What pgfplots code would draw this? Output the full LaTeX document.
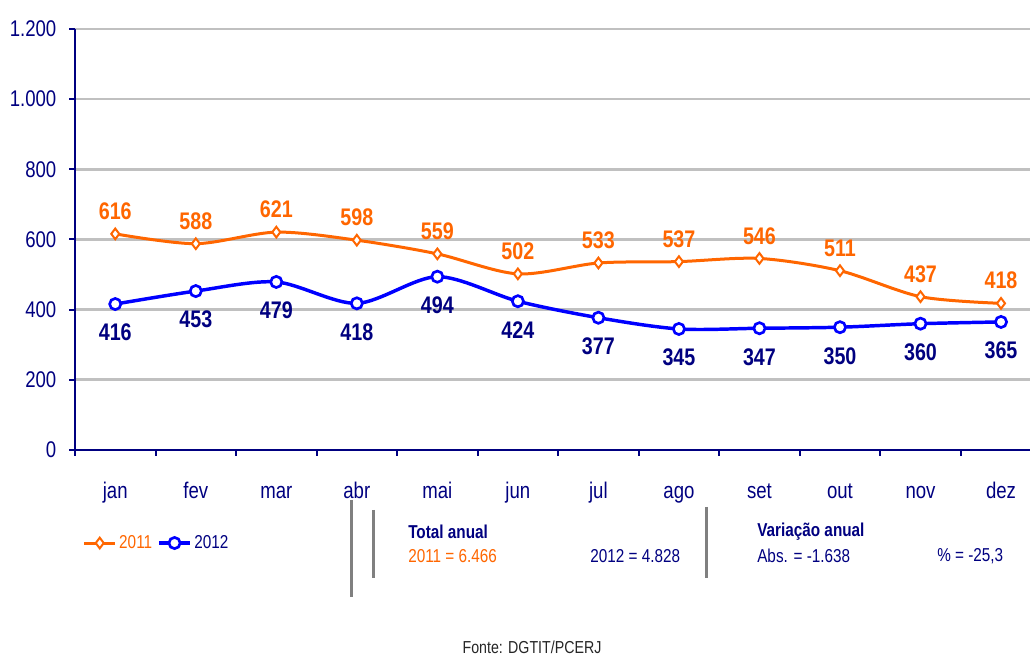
\documentclass[border=0pt]{standalone}
\usepackage{fontspec}
\setmainfont{Liberation Sans}[FakeStretch=0.82]
\usepackage{pgfplots}
\pgfplotsset{compat=1.18}
\definecolor{laranja}{HTML}{FF6600}
\definecolor{azul}{HTML}{0000FF}
\definecolor{marinho}{HTML}{000080}
\definecolor{grade}{HTML}{C0C0C0}
\definecolor{cinza}{HTML}{808080}

\begin{document}
\begin{tikzpicture}
\path[use as bounding box] (-56.25pt,-153.75pt) rectangle (716.25pt,337.5pt);
\begin{axis}[
    at={(0pt,0pt)}, anchor=south west,
    scale only axis, width=716.25pt, height=315.75pt,
    xmin=-0.5, xmax=11.36, ymin=0, ymax=1200,
    axis x line*=bottom, axis y line*=left,
    axis line style={marinho, line width=1.5pt},
    xtick={0,...,11},
    xticklabels={jan,fev,mar,abr,mai,jun,jul,ago,set,out,nov,dez},
    minor xtick={-0.5,0.5,...,10.5},
    major x tick style={draw=none},
    tick style={marinho, line width=1.5pt},
    tick align=outside,
    major tick length=4.5pt, minor tick length=4.5pt,
    ytick={0,200,...,1200},
    ymajorgrids, grid style={grade, line width=2pt},
    /pgf/number format/assume math mode=true,
    /pgf/number format/1000 sep={.},
    ticklabel style={font=\fontsize{17}{20}\selectfont, text=marinho},
    xticklabel style={anchor=base, yshift=-32pt},
    yticklabel style={xshift=-6pt},
    clip=false,
    legend style={at={(axis description cs:0.008,-0.221)}, anchor=west,
        draw=none, fill=none, inner sep=0pt,
        font=\fontsize{14}{16}\selectfont,
        /tikz/every even column/.append style={column sep=2pt}},
    legend columns=2,
    legend image code/.code={%
        \draw[#1, mark=none] (0pt,0pt) -- (23pt,0pt);
        \draw[#1, only marks] plot coordinates {(11.5pt,0pt)};},
]
\addplot[laranja, line width=2.25pt, smooth, tension=0.5,
    mark=diamond*, mark size=4pt,
    mark options={fill=white, line width=1.5pt, solid},
    nodes near coords,
    every node near coord/.append style={anchor=center, yshift=17pt,
        font=\fontsize{18}{20}\selectfont\bfseries, text=laranja}]
coordinates {
    (0,616) (1,588) (2,621) (3,598) (4,559) (5,502)
    (6,533) (7,537) (8,546) (9,511) (10,437) (11,418)
};
\addlegendentry{\textcolor{laranja}{2011}}
\addplot[azul, line width=2.6pt, smooth, tension=0.5,
    mark=*, mark size=4.2pt,
    mark options={fill=white, line width=2pt, solid},
    nodes near coords,
    every node near coord/.append style={anchor=center, yshift=-21.5pt,
        font=\fontsize{18}{20}\selectfont\bfseries, text=marinho}]
coordinates {
    (0,416) (1,453) (2,479) (3,418) (4,494) (5,424)
    (6,377) (7,345) (8,347) (9,350) (10,360) (11,365)
};
\addlegendentry{\textcolor{marinho}{2012}}
\end{axis}
% painel de totais
\draw[cinza, line width=2.25pt] (207pt,-37.5pt) -- (207pt,-110.25pt);
\draw[cinza, line width=2.25pt] (223.5pt,-45pt) -- (223.5pt,-96pt);
\draw[cinza, line width=2.25pt] (473.25pt,-42.75pt) -- (473.25pt,-96pt);
\begin{scope}[every node/.style={anchor=west, inner sep=0pt, font=\fontsize{14}{16}\selectfont}]
\node[text=marinho, font=\fontsize{14}{16}\selectfont\bfseries] at (249.75pt,-61.5pt) {Total anual};
\node[text=laranja] at (249.75pt,-79.5pt) {2011 = 6.466};
\node[text=marinho] at (386.25pt,-79.5pt) {2012 = 4.828};
\node[text=marinho, font=\fontsize{14}{16}\selectfont\bfseries] at (511.5pt,-61.5pt) {Variação anual};
\node[text=marinho] at (511.5pt,-79.5pt) {Abs. = -1.638};
\node[text=marinho] at (646.5pt,-79.5pt) {\% = -25,3};
\end{scope}
\node[font=\fontsize{13}{15}\selectfont, text=black!85] at (342.75pt,-147.75pt) {Fonte: DGTIT/PCERJ};
\end{tikzpicture}
\end{document}
